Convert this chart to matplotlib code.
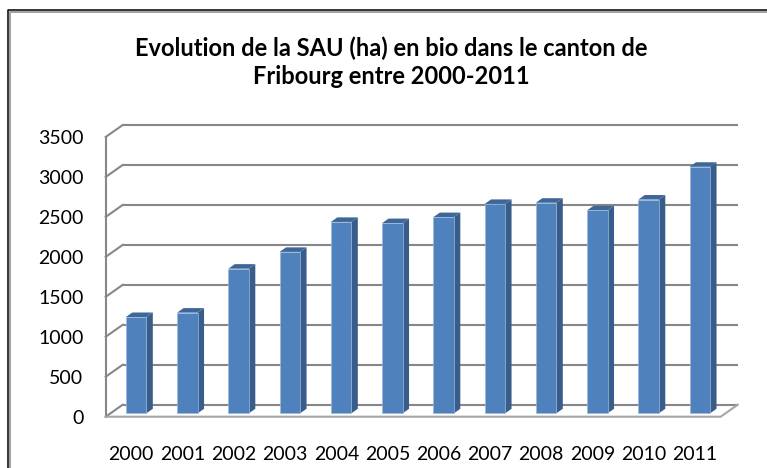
"""3D-style column chart: organic farmland (SAU, ha) in canton Fribourg, 2000-2011."""

import matplotlib.pyplot as plt
from matplotlib.patches import Rectangle, Polygon
from matplotlib.lines import Line2D

plt.rcParams['font.family'] = ['Lato', 'DejaVu Sans']

years = ["2000", "2001", "2002", "2003", "2004", "2005",
         "2006", "2007", "2008", "2009", "2010", "2011"]
sau_ha = [1205, 1260, 1810, 2020, 2395, 2380, 2455, 2620, 2635, 2540, 2675, 3085]
y_ticks = [0, 500, 1000, 1500, 2000, 2500, 3000, 3500]

TITLE = "Evolution de la SAU (ha) en bio dans le canton de\nFribourg entre 2000-2011"

FRONT = "#4F81BD"
SIDE = "#385D8A"
TOP = "#3E6799"
GRID = "#878787"
FLOOR = "#A6A6A6"

# depth of the fake 3D box in data units, and where the bars sit inside it
DX, DY = 0.332, 150
D0, D1 = 0.28, 0.66
HALF = 0.2

W, H = 767, 468
fig = plt.figure(figsize=(W / 100, H / 100), dpi=100)
fig.patch.set_facecolor("white")
ax = fig.add_axes([105.7 / W, 51.3 / H, 632 / W, 291.7 / H])
n = len(years)
ax.set_xlim(-0.5, n - 0.5 + DX)
ax.set_ylim(0, y_ticks[-1] + DY)
ax.set_facecolor("none")
for s in ax.spines.values():
    s.set_visible(False)

# back wall gridlines + left side wall diagonals
for v in y_ticks:
    ax.plot([-0.5 + DX, n - 0.5 + DX], [v + DY, v + DY], color=GRID, lw=1.5,
            solid_capstyle="butt", clip_on=False, zorder=1)
    ax.plot([-0.5, -0.5 + DX], [v, v + DY], color=GRID, lw=1.5, clip_on=False, zorder=1)
ax.plot([-0.5, -0.5], [0, y_ticks[-1]], color=GRID, lw=1.5, clip_on=False, zorder=1)

# floor
ax.plot([-0.5, n - 0.5, n - 0.5 + DX], [0, 0, DY], color=FLOOR, lw=1.5,
        clip_on=False, zorder=1)

# bars
bdx, bdy = (D1 - D0) * DX, (D1 - D0) * DY
for i, v in enumerate(sau_ha):
    x0 = i - HALF + D0 * DX
    y0 = D0 * DY
    x1 = x0 + 2 * HALF
    ax.add_patch(Polygon([(x1, y0), (x1 + bdx, y0 + bdy), (x1 + bdx, y0 + bdy + v), (x1, y0 + v)],
                         closed=True, fc=SIDE, ec="none", zorder=3))
    ax.add_patch(Polygon([(x0, y0 + v), (x1, y0 + v), (x1 + bdx, y0 + v + bdy), (x0 + bdx, y0 + v + bdy)],
                         closed=True, fc=TOP, ec="none", zorder=3))
    ax.add_patch(Rectangle((x0, y0), 2 * HALF, v, fc=FRONT, ec="#9DB7DA", lw=0.5, zorder=4))

ax.set_xticks(range(n))
ax.set_xticklabels(years, fontsize=14)
ax.set_yticks(y_ticks)
ax.set_yticklabels([str(t) for t in y_ticks], fontsize=14)
ax.tick_params(axis="x", length=0, pad=21)
ax.tick_params(axis="y", length=0, pad=16)

fig.text(391 / W, 1 - 62 / H, TITLE, ha="center", va="center", fontsize=17,
         fontweight="bold", linespacing=1.28)

# chart frame (only left and top edges are in view)
fig.add_artist(Line2D([8 / W, 8 / W, 1], [0, 1 - 10 / H, 1 - 10 / H],
                      transform=fig.transFigure, color="black", lw=1.1))
fig.add_artist(Line2D([9.8 / W, 9.8 / W, 1], [0, 1 - 11.8 / H, 1 - 11.8 / H],
                      transform=fig.transFigure, color="#A0A0A0", lw=1.4))

fig.savefig("out.png", dpi=100)
